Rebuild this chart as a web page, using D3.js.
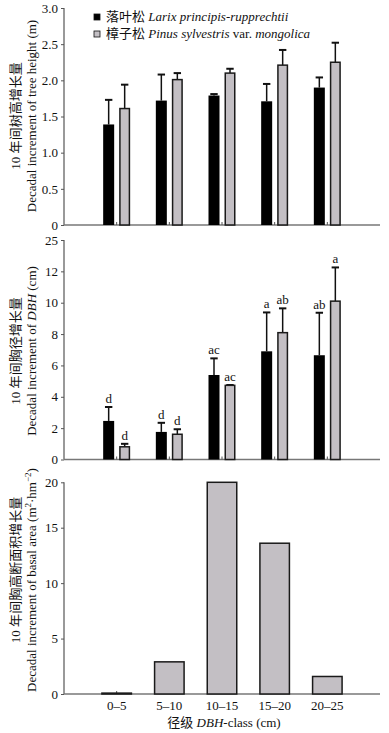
<!DOCTYPE html>
<html>
<head>
<meta charset="utf-8">
<script src="https://cdn.jsdelivr.net/npm/d3@7"></script>
<style>
  body { margin: 0; background: #fff; }
  svg text { font-family: "Liberation Serif", "Noto Sans CJK SC", serif; fill: #111; }
</style>
</head>
<body>
<div id="chart"></div>
<script>
// DBH-Klassen
const classes = ["0–5", "5–10", "10–15", "15–20", "20–25"];

// Höhenzuwachs (m), Mittelwert + SD
const heightLarix = [1.39, 1.72, 1.79, 1.71, 1.90];
const heightLarixSd = [0.34, 0.36, 0.02, 0.24, 0.14];
const heightPinus = [1.61, 2.01, 2.10, 2.21, 2.25];
const heightPinusSd = [0.33, 0.09, 0.06, 0.21, 0.27];

// BHD-Zuwachs (cm)
const dbhLarix = [2.46, 1.76, 5.39, 6.90, 6.65];
const dbhLarixSd = [0.89, 0.58, 1.06, 2.48, 2.71];
const dbhPinus = [0.81, 1.61, 4.73, 8.09, 10.1];
const dbhPinusSd = [0.19, 0.32, 0.02, 1.55, 2.15];
const dbhLarixSig = ["d", "d", "ac", "a", "ab"];
const dbhPinusSig = ["d", "d", "ac", "ab", "a"];

// Grundflächenzuwachs (m²·hm⁻²)
const basal = [0.08, 2.9, 20.0, 13.6, 1.58];

// Achsen-Ticks (oberster BHD-Tick ist im Original mit "25" beschriftet)
const heightTicks = [0, 0.5, 1.0, 1.5, 2.0, 2.5, 3.0];
const dbhTicks = [0, 2, 4, 6, 8, 10, 12, 14];
const dbhTickLabels = ["0", "2", "4", "6", "8", "10", "12", "25"];
const basalTicks = [0, 5, 10, 15, 20];

const W = 389, H = 733;
const L = 64, R = 380;
const GREY = "#c3bfc4";

const svg = d3.select("#chart").append("svg").attr("width", W).attr("height", H);

// Position 0..6, Klassen auf 1..5
const x = d3.scaleLinear().domain([0, 6]).range([L, R]);
const cx = i => x(i + 1);

function axes(y, ticks, fmt) {
  const y0 = y.range()[0], yTop = y.range()[y.range().length - 1];
  svg.append("g").attr("transform", `translate(${L},0)`)
    .call(d3.axisLeft(y).tickValues(ticks).tickSize(3).tickPadding(3).tickFormat(fmt))
    .call(g => g.select(".domain").attr("d", `M0,${yTop}V${y0}`).attr("stroke", "#555").attr("stroke-width", 1.2))
    .call(g => g.selectAll(".tick line").attr("stroke", "#555"))
    .call(g => g.selectAll(".tick text").style("font-size", "13px").attr("fill", "#111"));
  // x-Achse
  svg.append("line").attr("x1", L).attr("x2", R).attr("y1", y0).attr("y2", y0)
    .attr("stroke", "#777").attr("stroke-width", 1.4);
  // kleine Ticks an Klassenmitten (nach innen)
  svg.append("g").selectAll("line").data(classes).join("line")
    .attr("x1", (d, i) => cx(i)).attr("x2", (d, i) => cx(i))
    .attr("y1", y0).attr("y2", y0 - 3)
    .attr("stroke", "#555").attr("stroke-width", 1);
}

function yTitle(lines, yc) {
  lines.forEach(ln => {
    const t = svg.append("text")
      .attr("transform", `translate(${ln.x},${ln.y || yc}) rotate(-90)`)
      .attr("text-anchor", "middle").style("font-size", "13px");
    ln.parts.forEach(p => t.append("tspan").text(p[0]).style("font-style", p[1] ? "italic" : "normal")
      .attr("baseline-shift", p[2] || null).style("font-size", p[2] ? "9px" : null));
  });
}

function pairBars(y, a, aSd, b, bSd, sigA, sigB) {
  const bw = 11, off = 2.5;
  const y0 = y.range()[0];
  const series = [
    { vals: a, sd: aSd, sig: sigA, fill: "#000", dx: -off - bw },
    { vals: b, sd: bSd, sig: sigB, fill: GREY, dx: off }
  ];
  series.forEach(s => {
    const g = svg.append("g");
    const data = s.vals.map((v, i) => ({ v, sd: s.sd[i], sig: s.sig ? s.sig[i] : null, i }));
    // Fehlerbalken
    g.selectAll("line.err").data(data).join("line").attr("class", "err")
      .attr("x1", d => cx(d.i) + s.dx + bw / 2).attr("x2", d => cx(d.i) + s.dx + bw / 2)
      .attr("y1", d => y(d.v)).attr("y2", d => y(d.v + d.sd))
      .attr("stroke", "#111").attr("stroke-width", 1.5);
    g.selectAll("line.cap").data(data).join("line").attr("class", "cap")
      .attr("x1", d => cx(d.i) + s.dx + bw / 2 - 3.7).attr("x2", d => cx(d.i) + s.dx + bw / 2 + 3.7)
      .attr("y1", d => y(d.v + d.sd)).attr("y2", d => y(d.v + d.sd))
      .attr("stroke", "#111").attr("stroke-width", 2);
    g.selectAll("rect").data(data).join("rect")
      .attr("x", d => cx(d.i) + s.dx + (s.fill === "#000" ? 0 : 0.75))
      .attr("width", s.fill === "#000" ? bw : bw - 1.5)
      .attr("y", d => y(d.v)).attr("height", d => y0 - y(d.v))
      .attr("fill", s.fill)
      .attr("stroke", s.fill === "#000" ? "none" : "#1a1a1a").attr("stroke-width", 1.5);
    if (s.sig) {
      g.selectAll("text").data(data).join("text")
        .attr("x", d => cx(d.i) + s.dx + bw / 2).attr("y", d => y(d.v + d.sd) - 4)
        .attr("text-anchor", "middle").style("font-size", "13px")
        .text(d => d.sig);
    }
  });
}

// ---------- Panel 1: Höhe ----------
const yH = d3.scaleLinear().domain([0, 3]).range([225, 8]);
axes(yH, heightTicks, d => d === 0 ? "0" : d3.format(".1f")(d));
pairBars(yH, heightLarix, heightLarixSd, heightPinus, heightPinusSd);
yTitle([
  { x: 20, parts: [["10 年间树高增长量"]] },
  { x: 36, parts: [["Decadal increment of tree height (m)"]] }
], 116);

// Legende
const legend = [
  { fill: "#000", parts: [["落叶松 "], ["Larix principis-rupprechtii", true]] },
  { fill: GREY, parts: [["樟子松 "], ["Pinus sylvestris", true], [" var. "], ["mongolica", true]] }
];
legend.forEach((d, k) => {
  const ly = 21 + k * 17;
  svg.append("rect").attr("x", 94).attr("y", ly - 7).attr("width", 6).attr("height", 6)
    .attr("fill", d.fill).attr("stroke", "#111").attr("stroke-width", 0.8);
  const t = svg.append("text").attr("x", 106).attr("y", ly).style("font-size", "13px");
  d.parts.forEach(p => t.append("tspan").text(p[0]).style("font-style", p[1] ? "italic" : "normal"));
});

// ---------- Panel 2: BHD ----------
const yD = d3.scaleLinear().domain([0, 14]).range([459.5, 240]);
axes(yD, dbhTicks, d => dbhTickLabels[dbhTicks.indexOf(d)]);
pairBars(yD, dbhLarix, dbhLarixSd, dbhPinus, dbhPinusSd, dbhLarixSig, dbhPinusSig);
yTitle([
  { x: 20, parts: [["10 年间胸径增长量"]] },
  { x: 36, parts: [["Decadal increment of "], ["DBH", true], [" (cm)"]] }
], 351);

// ---------- Panel 3: Grundfläche ----------
const yB = d3.scaleLinear().domain([0, 15, 20]).range([694, 527.7, 482.3]);
axes(yB, basalTicks, d => d);
svg.append("g").selectAll("rect").data(basal).join("rect")
  .attr("x", (d, i) => cx(i) - 15.5 + 0.75).attr("width", 29.5)
  .attr("y", d => yB(d)).attr("height", d => 694 - yB(d))
  .attr("fill", GREY).attr("stroke", "#1a1a1a").attr("stroke-width", 1.5);
yTitle([
  { x: 20, y: 570, parts: [["10 年间胸高断面积增长量"]] },
  { x: 36, y: 580, parts: [["Decadal increment of basal area (m"], ["2", false, "super"], ["·hm"], ["−2", false, "super"], [")"]] }
], 575);

// x-Beschriftung
svg.append("g").selectAll("text").data(classes).join("text")
  .attr("x", (d, i) => cx(i)).attr("y", 710)
  .attr("text-anchor", "middle").style("font-size", "13px").text(d => d);
const xt = svg.append("text").attr("x", 224).attr("y", 727)
  .attr("text-anchor", "middle").style("font-size", "13px");
[["径级 "], ["DBH", true], ["-class (cm)"]].forEach(p =>
  xt.append("tspan").text(p[0]).style("font-style", p[1] ? "italic" : "normal"));
</script>
</body>
</html>
